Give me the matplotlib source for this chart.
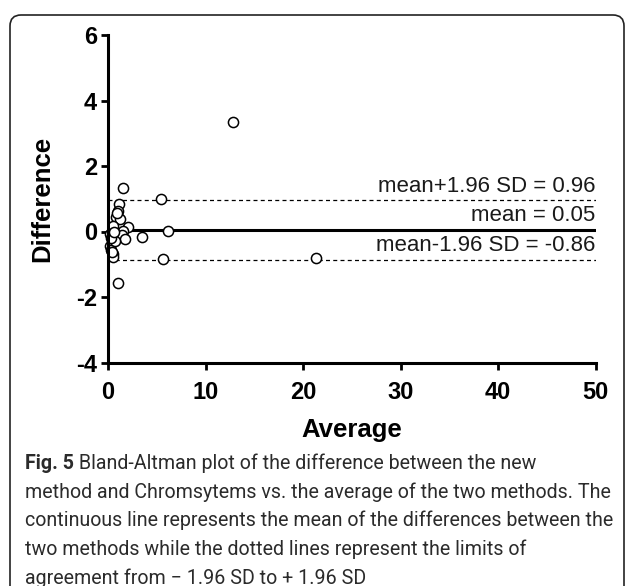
import matplotlib
matplotlib.use("Agg")
import matplotlib.pyplot as plt
from matplotlib.patches import FancyBboxPatch
from matplotlib import font_manager

# ---- data ----
average = [12.85, 21.33, 5.4, 6.12, 3.46, 5.67, 1.57, 2.08, 1.0, 1.13, 1.06, 0.79,
           1.23, 0.54, 1.57, 0.2, 1.4, 0.54, 1.74, 0.2, 0.35, 0.54, 0.54, 0.9,
           0.7, 0.3, 0.45, 0.6]
difference = [3.33, -0.82, 0.98, 0.03, -0.17, -0.84, 1.32, 0.13, -1.57, 0.85, 0.64, 0.44,
              0.39, 0.18, 0.03, -0.07, -0.12, -0.28, -0.22, -0.43, -0.55, -0.68, -0.78, 0.55,
              -0.3, -0.2, -0.62, 0.0]
mean_diff = 0.05
upper_loa = 0.96
lower_loa = -0.86
x_ticks = [0, 10, 20, 30, 40, 50]
y_ticks = [-4, -2, 0, 2, 4, 6]
x_label = "Average"
y_label = "Difference"
line_labels = ["mean+1.96 SD = 0.96", "mean = 0.05", "mean-1.96 SD = -0.86"]
caption_bold = "Fig. 5"
caption_lines = [
    " Bland-Altman plot of the difference between the new",
    "method and Chromsytems vs. the average of the two methods. The",
    "continuous line represents the mean of the differences between the",
    "two methods while the dotted lines represent the limits of",
    "agreement from \u2212 1.96 SD to + 1.96 SD",
]

plt.rcParams['axes.unicode_minus'] = False
W, H = 627, 586
fig = plt.figure(figsize=(W / 100, H / 100), dpi=100)

# frame
frame = FancyBboxPatch((10, -20), 614, 572 + 20 - 1, boxstyle="round,pad=0,rounding_size=11",
                       transform=None, fill=False, edgecolor="#222222", linewidth=1.2)
fig.add_artist(frame)

L, R, T, B = 108, 595.7, 35, 362.5
ax = fig.add_axes([L / W, 1 - B / H, (R - L) / W, (B - T) / H])
ax.set_xlim(0, 50)
ax.set_ylim(-4, 6)
ax.set_xticks(x_ticks)
ax.set_yticks(y_ticks)
for s in ['top', 'right']:
    ax.spines[s].set_visible(False)
for s in ['left', 'bottom']:
    ax.spines[s].set_linewidth(2.2)
    ax.spines[s].set_zorder(5)
ax.tick_params(axis='both', width=2.0, length=5, direction='out')
ax.tick_params(axis='x', pad=8)
ax.tick_params(axis='y', pad=3)
for lab in ax.get_xticklabels() + ax.get_yticklabels():
    lab.set_fontfamily('Liberation Sans')
    lab.set_fontweight('bold')
    lab.set_fontsize(17)

ax.plot([0, 50], [mean_diff, mean_diff], color='black', lw=2.2, solid_capstyle='butt', zorder=2)
for v in (upper_loa, lower_loa):
    ax.plot([0, 50], [v, v], color='black', lw=0.9, linestyle=(0, (3.2, 2.6)), zorder=2)

ax.plot(average, difference, linestyle='none', marker='o', markersize=7.3,
        markerfacecolor='white', markeredgecolor='black', markeredgewidth=1.1,
        zorder=3, clip_on=False)

for v, t in zip((upper_loa, mean_diff, lower_loa), line_labels):
    ax.annotate(t, xy=(50, v), xytext=(0, 2.5), textcoords='offset points',
                ha='right', va='bottom', fontsize=16, family='Liberation Sans',
                color='#1a1a1a')

ax.text(-0.135, 0.5, y_label, transform=ax.transAxes, rotation=90, ha='center',
        va='center', fontsize=18.5, fontweight='bold', family='Liberation Sans')
ax.text(0.5, -0.205, x_label, transform=ax.transAxes, ha='center',
        va='center', fontsize=18.5, fontweight='bold', family='Liberation Sans')

# caption
names = {f.name for f in font_manager.fontManager.ttflist}
cap_font = 'Liberation Sans Narrow' if 'Liberation Sans Narrow' in names else 'Roboto'
cap_color = '#2b2b2b'
renderer = fig.canvas.get_renderer()
probe = fig.text(0, 0, caption_lines[2], fontsize=12, family=cap_font)
wpx = probe.get_window_extent(renderer).width
probe.remove()
fs = 12 * 587.0 / wpx
baselines = [469, 497.7, 526.5, 555, 583.5]
x0 = 25 / W
t0 = fig.text(x0, 1 - baselines[0] / H, caption_bold, fontsize=fs, family=cap_font,
              fontweight='bold', va='baseline', color=cap_color)
bb = t0.get_window_extent(renderer)
fig.text(bb.x1 / W, 1 - baselines[0] / H, caption_lines[0], fontsize=fs, family=cap_font,
         va='baseline', color=cap_color)
for i in range(1, 5):
    fig.text(x0, 1 - baselines[i] / H, caption_lines[i], fontsize=fs, family=cap_font,
             va='baseline', color=cap_color)

fig.savefig("out.png", dpi=100)
